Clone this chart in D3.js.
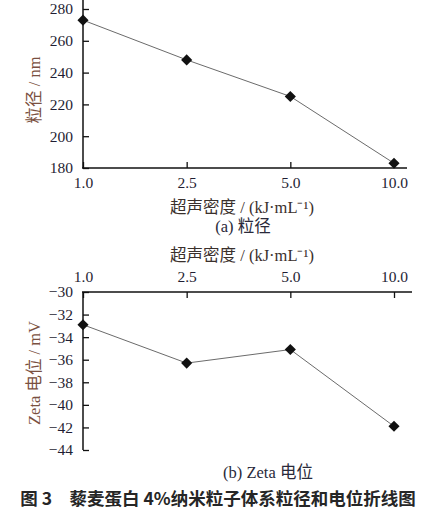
<!DOCTYPE html>
<html>
<head>
<meta charset="utf-8">
<script src="https://cdn.jsdelivr.net/npm/d3@7"></script>
<style>
  body { margin: 0; background: #fff; }
  .tick text { font-family: "Liberation Serif", "DejaVu Serif", serif; font-size: 15.5px; fill: #1f1e33; }
  .lbl { font-family: "Liberation Serif", "Noto Sans CJK SC", serif; font-size: 16.5px; }
</style>
</head>
<body>
<div id="chart"></div>
<script>
// data
var energy = ["1.0", "2.5", "5.0", "10.0"];
var sizeNm = [273, 248, 225, 183];
var zetaMv = [-32.9, -36.3, -35.1, -41.9];
var sizeTicks = [180, 200, 220, 240, 260, 280];
var zetaTicks = [-30, -32, -34, -36, -38, -40, -42, -44];

var W = 435, H = 512;
var svg = d3.select("#chart").append("svg")
    .attr("width", W)
    .attr("height", H);

var x = d3.scalePoint().domain(energy).range([83, 394]);
var ySize = d3.scaleLinear().domain([180, 280]).range([168, 9]);
var yZeta = d3.scaleLinear().domain([-30, -44]).range([292, 450]);

var line = d3.line()
    .x(function (d) { return x(d.e); })
    .y(function (d) { return d.y; });

var diamond = d3.symbol().type(d3.symbolSquare).size(62);

function drawSeries(g, vals, yScale) {
    var pts = vals.map(function (v, i) { return { e: energy[i], y: yScale(v) }; });
    g.append("path")
        .attr("d", line(pts))
        .style("fill", "none")
        .style("stroke", "#6b6b6b")
        .style("stroke-width", 1);
    g.selectAll(".pt")
        .data(pts)
        .enter()
        .append("path")
        .attr("d", diamond)
        .attr("transform", function (d) { return "translate(" + x(d.e) + "," + d.y + ") rotate(45)"; })
        .style("fill", "#111");
}

/* --- (a) particle size --- */
var ga = svg.append("g");

ga.append("g")
    .attr("transform", "translate(83,0)")
    .call(d3.axisLeft(ySize).tickValues(sizeTicks).tickFormat(d3.format("d"))
        .tickSize(-6).tickSizeOuter(0).tickPadding(10))
    .call(function (g) { g.select(".domain").remove(); });

ga.append("g")
    .attr("transform", "translate(0,168)")
    .call(d3.axisBottom(x).tickSize(-6).tickSizeOuter(0).tickPadding(9))
    .call(function (g) { g.select(".domain").remove(); });

ga.selectAll(".tick line").style("stroke", "#111").style("stroke-width", 1.3);

ga.append("line").attr("x1", 83).attr("x2", 83).attr("y1", 0).attr("y2", 168)
    .style("stroke", "#111").style("stroke-width", 1.5);
ga.append("line").attr("x1", 82).attr("x2", 407).attr("y1", 168).attr("y2", 168)
    .style("stroke", "#111").style("stroke-width", 1.5);

drawSeries(ga, sizeNm, ySize);

ga.append("text").attr("class", "lbl")
    .attr("x", 242).attr("y", 213)
    .attr("text-anchor", "middle")
    .style("fill", "#3a302c")
    .text("超声密度 / (kJ·mL⁻¹)");

ga.append("text").attr("class", "lbl")
    .attr("x", 243).attr("y", 232)
    .attr("text-anchor", "middle")
    .style("fill", "#2a2a3a")
    .text("(a)  粒径");

ga.append("text").attr("class", "lbl")
    .attr("transform", "translate(40,90) rotate(-90)")
    .attr("text-anchor", "middle")
    .style("fill", "#7a5040")
    .text("粒径 / nm");

/* --- (b) zeta potential --- */
var gb = svg.append("g");

gb.append("g")
    .attr("transform", "translate(83,0)")
    .call(d3.axisLeft(yZeta).tickValues(zetaTicks).tickFormat(d3.format("d"))
        .tickSize(-6).tickSizeOuter(0).tickPadding(10))
    .call(function (g) { g.select(".domain").remove(); });

gb.append("g")
    .attr("transform", "translate(0,292)")
    .call(d3.axisTop(x).tickSize(-6).tickSizeOuter(0).tickPadding(10))
    .call(function (g) { g.select(".domain").remove(); });

gb.selectAll(".tick line").style("stroke", "#111").style("stroke-width", 1.3);

gb.append("line").attr("x1", 83).attr("x2", 83).attr("y1", 292).attr("y2", 450)
    .style("stroke", "#111").style("stroke-width", 1.5);
gb.append("line").attr("x1", 82).attr("x2", 412).attr("y1", 292).attr("y2", 292)
    .style("stroke", "#111").style("stroke-width", 1.5);

drawSeries(gb, zetaMv, yZeta);

gb.append("text").attr("class", "lbl")
    .attr("x", 242).attr("y", 261)
    .attr("text-anchor", "middle")
    .style("fill", "#3a302c")
    .text("超声密度 / (kJ·mL⁻¹)");

gb.append("text").attr("class", "lbl")
    .attr("transform", "translate(40,373) rotate(-90)")
    .attr("text-anchor", "middle")
    .style("fill", "#7a5040")
    .text("Zeta 电位 / mV");

gb.append("text").attr("class", "lbl")
    .attr("x", 268).attr("y", 478)
    .attr("text-anchor", "middle")
    .style("fill", "#2a2a3a")
    .text("(b)  Zeta 电位");

// figure caption
svg.append("text")
    .attr("x", 218).attr("y", 505)
    .attr("text-anchor", "middle")
    .style("font-family", "'Noto Sans CJK SC', sans-serif")
    .style("font-size", "17.5px")
    .style("font-weight", "bold")
    .style("fill", "#262626")
    .text("图 3　藜麦蛋白 4%纳米粒子体系粒径和电位折线图");
</script>
</body>
</html>
